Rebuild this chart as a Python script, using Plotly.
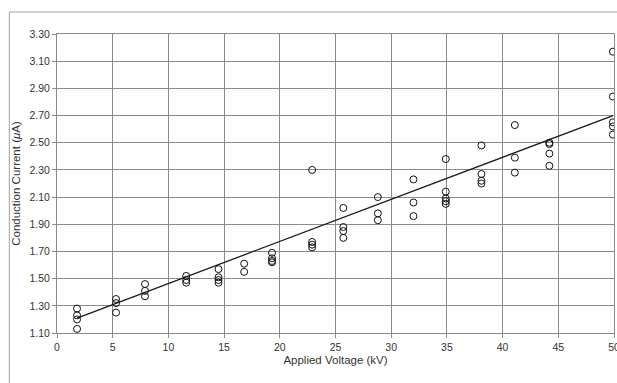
import plotly.graph_objects as go

# Applied voltage (kV) per measurement group and conduction current readings (uA)
voltage_groups = [1.8, 5.3, 7.9, 11.6, 14.5, 16.8, 19.3, 22.9, 25.7, 28.8, 32.0, 34.9, 38.1, 41.1, 44.2, 49.9]
current_1_8 = [1.28, 1.23, 1.20, 1.13]
current_5_3 = [1.35, 1.32, 1.25]
current_7_9 = [1.46, 1.41, 1.37]
current_11_6 = [1.52, 1.49, 1.47]
current_14_5 = [1.57, 1.51, 1.49, 1.47]
current_16_8 = [1.61, 1.55]
current_19_3 = [1.69, 1.65, 1.63, 1.62]
current_22_9 = [2.30, 1.77, 1.75, 1.73]
current_25_7 = [2.02, 1.88, 1.85, 1.80]
current_28_8 = [2.10, 1.98, 1.93]
current_32_0 = [2.23, 2.06, 1.96]
current_34_9 = [2.38, 2.14, 2.09, 2.07, 2.05]
current_38_1 = [2.48, 2.27, 2.22, 2.20]
current_41_1 = [2.63, 2.39, 2.28]
current_44_2 = [2.50, 2.49, 2.42, 2.33]
current_49_9 = [3.17, 2.84, 2.65, 2.62, 2.56]

# Linear trend line end points
trend_x = [1.8, 49.9]
trend_y = [1.21, 2.70]

x_ticks = [0, 5, 10, 15, 20, 25, 30, 35, 40, 45, 50]
y_ticks = [1.10, 1.30, 1.50, 1.70, 1.90, 2.10, 2.30, 2.50, 2.70, 2.90, 3.10, 3.30]

groups = [current_1_8, current_5_3, current_7_9, current_11_6, current_14_5, current_16_8,
          current_19_3, current_22_9, current_25_7, current_28_8, current_32_0, current_34_9,
          current_38_1, current_41_1, current_44_2, current_49_9]
xs, ys = [], []
for v, g in zip(voltage_groups, groups):
    for c in g:
        xs.append(v)
        ys.append(c)

FONT = "Liberation Sans, Arial, sans-serif"
GRID = "#8a8a8a"
TXT = "#333333"

fig = go.Figure()
fig.add_trace(go.Scatter(
    x=trend_x, y=trend_y, mode="lines",
    line=dict(color="#1a1a1a", width=1.3), showlegend=False, hoverinfo="skip"))
fig.add_trace(go.Scatter(
    x=xs, y=ys, mode="markers",
    marker=dict(symbol="circle-open", size=7, color="#111111", line=dict(width=1, color="#111111")),
    showlegend=False))

fig.update_layout(
    width=617, height=383,
    margin=dict(l=57, r=3, t=34, b=50),
    paper_bgcolor="white", plot_bgcolor="white",
    font=dict(family=FONT, size=10.5, color=TXT),
    xaxis=dict(
        range=[0, 50], tickvals=x_ticks, ticktext=[str(t) for t in x_ticks],
        showgrid=True, gridcolor=GRID, gridwidth=1,
        showline=True, linecolor=GRID, linewidth=1, mirror=True,
        ticks="outside", ticklen=4, tickcolor=GRID,
        ticklabeloverflow="allow", automargin=False,
        zeroline=False,
        title=dict(text="Applied Voltage (kV)", font=dict(size=11.5, family=FONT, color=TXT), standoff=4),
    ),
    yaxis=dict(
        range=[1.10, 3.30], tickvals=y_ticks, ticktext=["%.2f" % t for t in y_ticks],
        showgrid=True, gridcolor=GRID, gridwidth=1,
        showline=True, linecolor=GRID, linewidth=1, mirror=True,
        ticks="outside", ticklen=4, tickcolor=GRID,
        automargin=False,
        zeroline=False,
        title=dict(text="Conduction Current (<i>μ</i>A)", font=dict(size=11.5, family=FONT, color=TXT), standoff=6),
    ),
    shapes=[dict(
        type="rect", xref="paper", yref="paper",
        x0=-0.0856, x1=1.08, y0=-0.2, y1=1.0735,
        line=dict(color="#a0a0a0", width=1), fillcolor="rgba(0,0,0,0)", layer="below")],
)

fig.write_html("out.html")
